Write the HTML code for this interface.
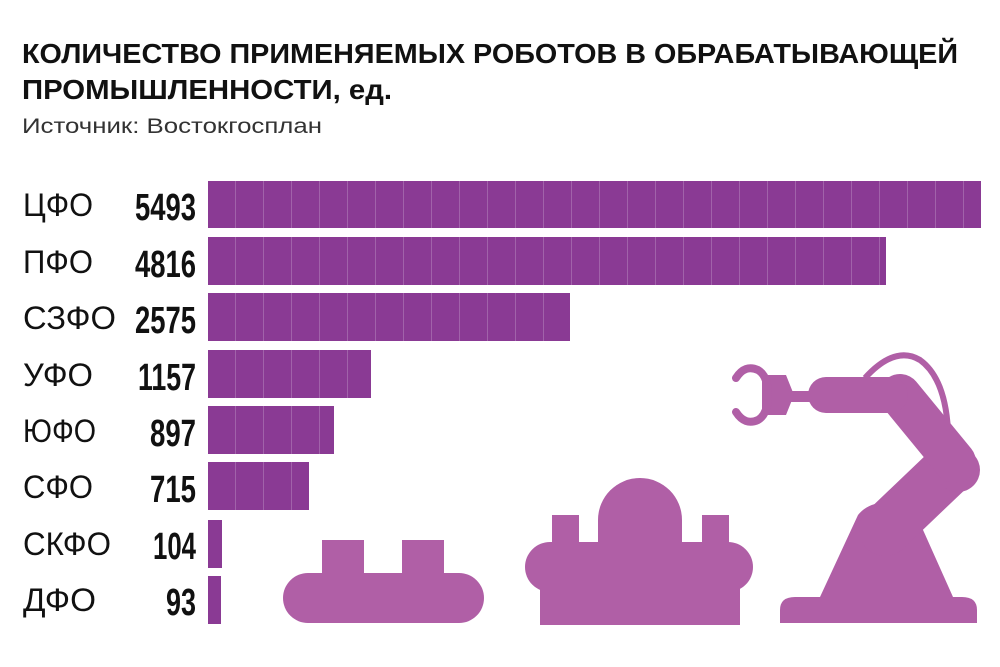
<!DOCTYPE html>
<html><head><meta charset="utf-8"><style>
html,body{margin:0;padding:0;background:#fff;}
svg{display:block;}
</style></head><body>
<svg width="1000" height="667" viewBox="0 0 1000 667" xmlns="http://www.w3.org/2000/svg">
<defs>
<pattern id="seg" x="208" y="0" width="28" height="10" patternUnits="userSpaceOnUse">
<rect x="0" y="0" width="28" height="10" fill="#8a3a94"/>
<rect x="27.5" y="0" width="1" height="10" fill="#b88ac0"/>
</pattern>
</defs>
<g font-family="'Liberation Sans','DejaVu Sans',sans-serif" fill="#111">
<text x="22" y="63" font-size="28" font-weight="bold" textLength="936" lengthAdjust="spacingAndGlyphs">КОЛИЧЕСТВО ПРИМЕНЯЕМЫХ РОБОТОВ В ОБРАБАТЫВАЮЩЕЙ</text>
<text x="22" y="99" font-size="28" font-weight="bold" textLength="370" lengthAdjust="spacingAndGlyphs">ПРОМЫШЛЕННОСТИ, ед.</text>
<text x="22" y="133" font-size="21" fill="#333" textLength="300" lengthAdjust="spacingAndGlyphs">Источник: Востокгосплан</text>
</g>
<g font-family="'Liberation Sans','DejaVu Sans',sans-serif" font-size="32" fill="#111">
<text x="23" y="216" textLength="70" lengthAdjust="spacingAndGlyphs">ЦФО</text>
<text x="23" y="273" textLength="70" lengthAdjust="spacingAndGlyphs">ПФО</text>
<text x="23" y="329" textLength="93" lengthAdjust="spacingAndGlyphs">СЗФО</text>
<text x="23" y="386" textLength="70" lengthAdjust="spacingAndGlyphs">УФО</text>
<text x="23" y="442" textLength="73" lengthAdjust="spacingAndGlyphs">ЮФО</text>
<text x="23" y="498" textLength="70" lengthAdjust="spacingAndGlyphs">СФО</text>
<text x="23" y="555" textLength="88" lengthAdjust="spacingAndGlyphs">СКФО</text>
<text x="23" y="611" textLength="73" lengthAdjust="spacingAndGlyphs">ДФО</text>
</g>
<g font-family="'Liberation Sans','DejaVu Sans',sans-serif" font-size="38" font-weight="bold" fill="#111" text-anchor="end">
<text x="196" y="220" textLength="61" lengthAdjust="spacingAndGlyphs">5493</text>
<text x="196" y="277" textLength="61" lengthAdjust="spacingAndGlyphs">4816</text>
<text x="196" y="333" textLength="61" lengthAdjust="spacingAndGlyphs">2575</text>
<text x="196" y="390" textLength="58" lengthAdjust="spacingAndGlyphs">1157</text>
<text x="196" y="446" textLength="46" lengthAdjust="spacingAndGlyphs">897</text>
<text x="196" y="502" textLength="46" lengthAdjust="spacingAndGlyphs">715</text>
<text x="196" y="559" textLength="43" lengthAdjust="spacingAndGlyphs">104</text>
<text x="196" y="615" textLength="30" lengthAdjust="spacingAndGlyphs">93</text>
</g>
<g fill="url(#seg)">
<rect x="208" y="181" width="773" height="47"/>
<rect x="208" y="237" width="678" height="48"/>
<rect x="208" y="293" width="362" height="48"/>
<rect x="208" y="350" width="163" height="48"/>
<rect x="208" y="406" width="126" height="48"/>
<rect x="208" y="462" width="101" height="48"/>
<rect x="208" y="520" width="14" height="48"/>
<rect x="208" y="576" width="13" height="48"/>
</g>
<g fill="#b05fa6">
<!-- left robot -->
<rect x="283" y="573" width="201" height="50" rx="25"/>
<rect x="322" y="540" width="42" height="35"/>
<rect x="402" y="540" width="42" height="35"/>
<!-- middle robot -->
<path d="M598,542 L598,520 A42,42 0 0 1 682,520 L682,542 Z"/>
<rect x="552" y="515" width="27" height="30"/>
<rect x="702" y="515" width="27" height="30"/>
<rect x="525" y="542" width="228" height="50" rx="25"/>
<rect x="540" y="580" width="200" height="45"/>
<!-- arm robot -->
<path d="M780,623 L780,610 Q780,597 795,597 L820,597 L858,515 Q870,500 895,503 L915,512 L953,597 L962,597 Q977,597 977,610 L977,623 Z"/>
<line x1="885" y1="530" x2="950" y2="468" stroke="#b05fa6" stroke-width="52" stroke-linecap="round"/>
<circle cx="958" cy="470" r="22"/>
<line x1="900" y1="395" x2="955" y2="462" stroke="#b05fa6" stroke-width="42" stroke-linecap="round"/>
<rect x="808" y="377" width="100" height="36" rx="18"/>
<rect x="788" y="391" width="25" height="11"/>
<path d="M762,375 L786,375 L794,395 L786,415 L762,415 Z"/>
<path d="M744,378 A18,18 0 1 1 762,380 M762,410 A18,18 0 1 1 744,412" fill="none" stroke="#b05fa6" stroke-width="0"/>
<path d="M736,378 Q745,364 758,370 Q768,376 768,395 Q768,414 758,420 Q745,426 736,412" fill="none" stroke="#b05fa6" stroke-width="8" stroke-linecap="round"/>
<path d="M865,378 Q895,345 920,360 Q945,378 948,430" fill="none" stroke="#b05fa6" stroke-width="6"/>
</g>
</svg>
</body></html>
